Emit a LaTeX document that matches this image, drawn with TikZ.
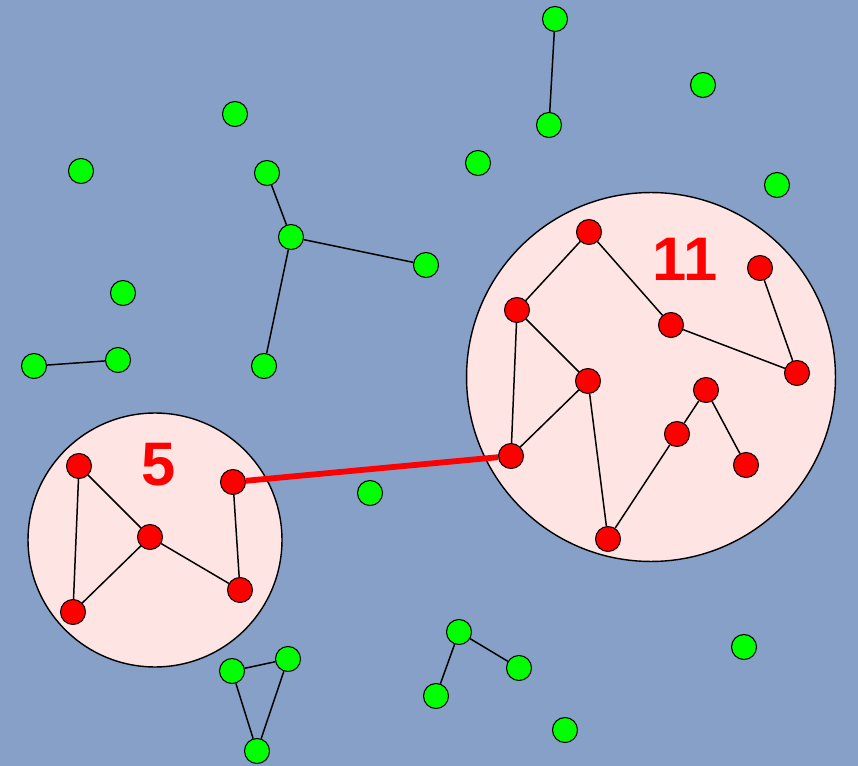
\documentclass[tikz,border=0pt]{standalone}
\usepackage{fontspec}
\setmainfont{Liberation Sans}

\definecolor{sky}{RGB}{134,160,200}
\definecolor{blush}{RGB}{255,228,228}

\begin{document}
\begin{tikzpicture}[x=0.02cm, y=-0.02cm]
        \tikzset{
            vert/.style={circle, draw, line width=0.6pt, inner sep=0pt, minimum size=0.5cm},
            free/.style={vert, fill=green},
            hit/.style={vert, fill=red},
            cluster/.style={circle, draw, line width=0.8pt, fill=blush, inner sep=0pt},
            size/.style={text=red, font=\fontsize{35}{35}\selectfont\bfseries, inner sep=0pt},
            link/.style={line width=0.85pt},
            bridge/.style={red, line width=3.3pt}
        }

        % backdrop
        \fill[sky] (0,0) rectangle (858,766);
        \useasboundingbox (0,0) rectangle (858,766);

        % the two clusters
        \node[cluster, minimum size=7.38cm] (big) at (651,377) {};
        \node[cluster, minimum size=5.08cm] (small) at (155,540) {};
        \node[size] (nbig) at (685,259) {11};
        \node[size] (nsmall) at (159,465) {5};

        % green vertices
        \node[free] (g1) at (555,19) {};
        \node[free] (g2) at (549,125) {};
        \node[free] (g3) at (703,85) {};
        \node[free] (g4) at (235,114) {};
        \node[free] (g5) at (81,171) {};
        \node[free] (g6) at (478,163) {};
        \node[free] (g7) at (777,185) {};
        \node[free] (g8) at (267,173) {};
        \node[free] (g9) at (291,237) {};
        \node[free] (g10) at (426,265) {};
        \node[free] (g11) at (264,366) {};
        \node[free] (g12) at (123,293) {};
        \node[free] (g13) at (34,366) {};
        \node[free] (g14) at (118,360) {};
        \node[free] (g15) at (370,493) {};
        \node[free] (g16) at (459,632) {};
        \node[free] (g17) at (519,668) {};
        \node[free] (g18) at (436,696) {};
        \node[free] (g19) at (744,647) {};
        \node[free] (g20) at (565,730) {};
        \node[free] (g21) at (232,671) {};
        \node[free] (g22) at (288,659) {};
        \node[free] (g23) at (257,751) {};

        % red vertices, small cluster
        \node[hit] (r1) at (79,466) {};
        \node[hit] (r2) at (150,537) {};
        \node[hit] (r3) at (73,612) {};
        \node[hit] (r4) at (233,482) {};
        \node[hit] (r5) at (240,590) {};

        % red vertices, big cluster
        \node[hit] (b1) at (589,232) {};
        \node[hit] (b2) at (517,310) {};
        \node[hit] (b3) at (671,325) {};
        \node[hit] (b4) at (760,268) {};
        \node[hit] (b5) at (797,373) {};
        \node[hit] (b6) at (588,381) {};
        \node[hit] (b7) at (706,390) {};
        \node[hit] (b8) at (677,434) {};
        \node[hit] (b9) at (746,465) {};
        \node[hit] (b10) at (511,456) {};
        \node[hit] (b11) at (608,539) {};

        % edges
        \draw[link] (g1) -- (g2);
        \draw[link] (g8) -- (g9);
        \draw[link] (g9) -- (g10);
        \draw[link] (g9) -- (g11);
        \draw[link] (g13) -- (g14);
        \draw[link] (g16) -- (g17);
        \draw[link] (g16) -- (g18);
        \draw[link] (g21) -- (g22);
        \draw[link] (g21) -- (g23);
        \draw[link] (g22) -- (g23);

        \draw[link] (r1) -- (r2);
        \draw[link] (r1) -- (r3);
        \draw[link] (r2) -- (r3);
        \draw[link] (r2) -- (r5);
        \draw[link] (r4) -- (r5);

        \draw[link] (b1) -- (b2);
        \draw[link] (b1) -- (b3);
        \draw[link] (b3) -- (b5);
        \draw[link] (b4) -- (b5);
        \draw[link] (b2) -- (b6);
        \draw[link] (b2) -- (b10);
        \draw[link] (b6) -- (b10);
        \draw[link] (b6) -- (b11);
        \draw[link] (b11) -- (b8);
        \draw[link] (b8) -- (b7);
        \draw[link] (b7) -- (b9);

        \draw[bridge] (r4) -- (b10);
    \end{tikzpicture}
\end{document}
